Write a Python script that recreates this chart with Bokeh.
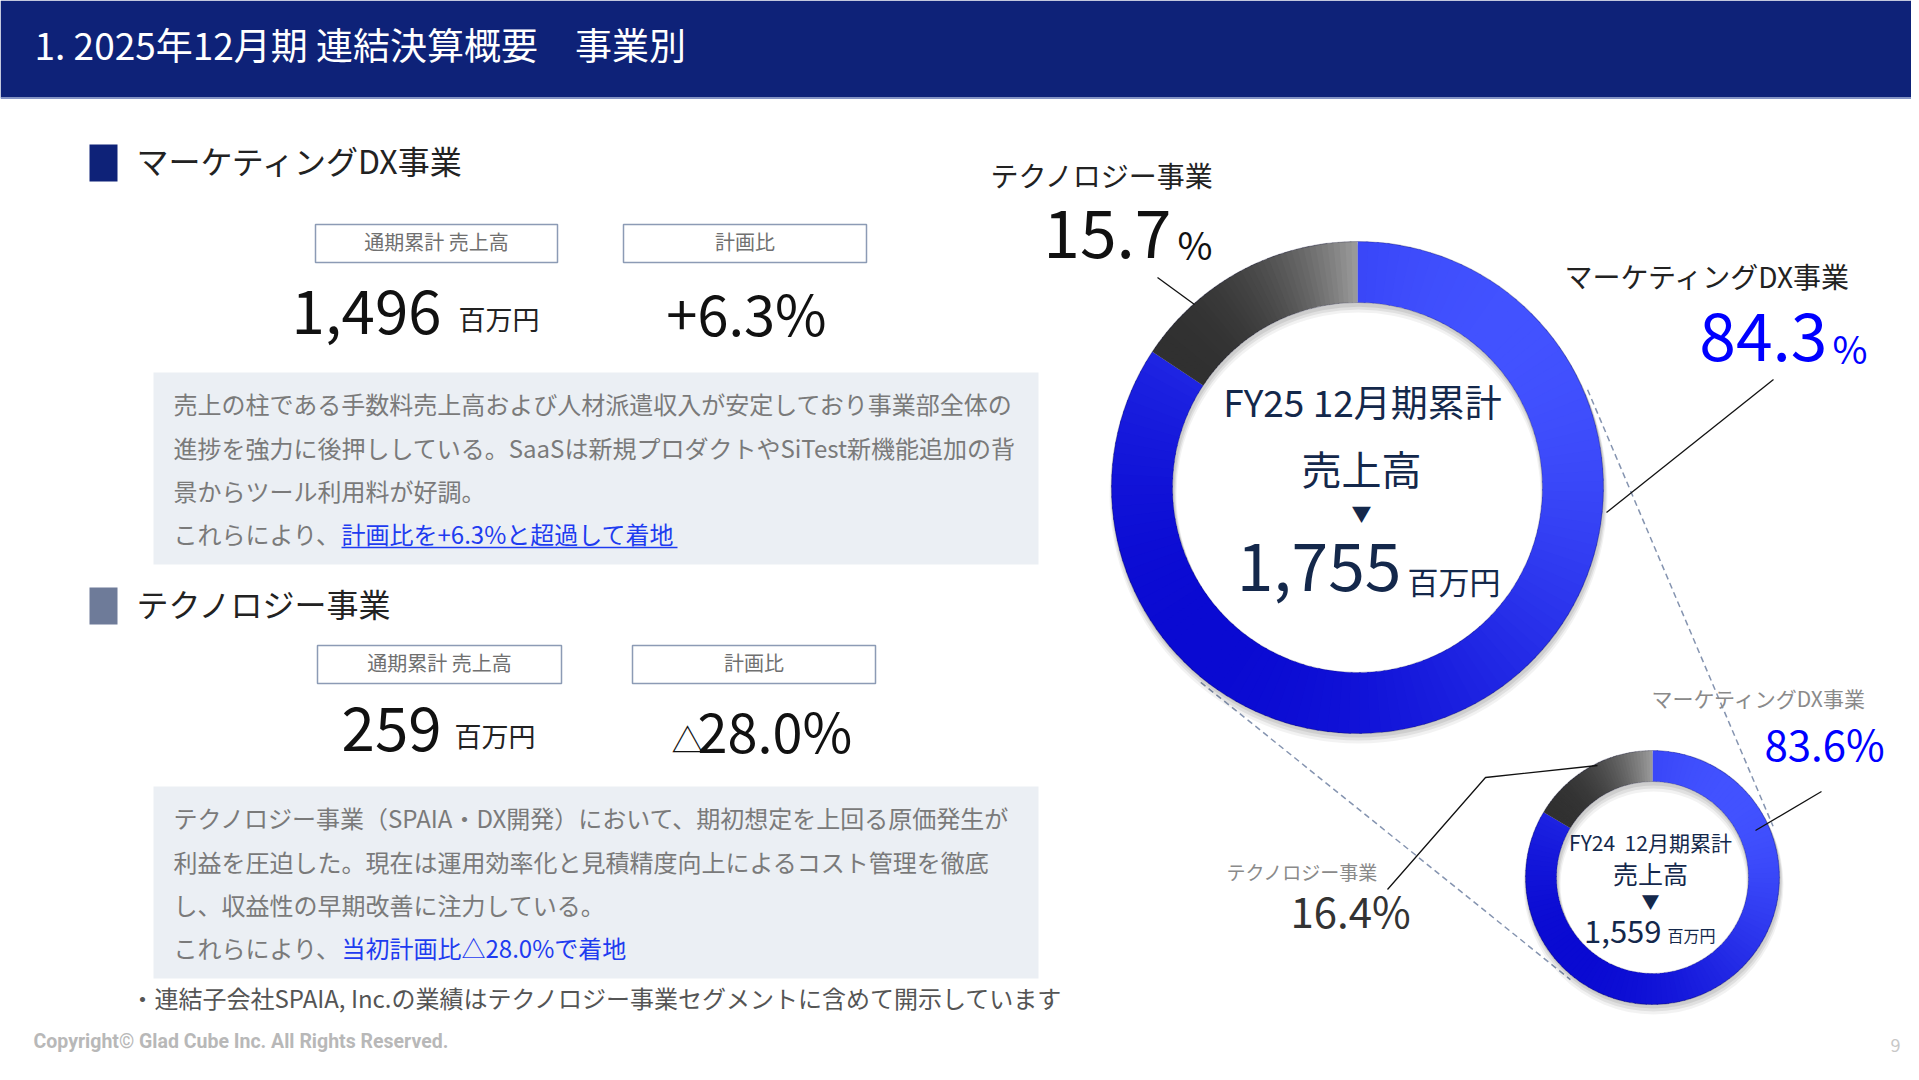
import numpy as np
from bokeh.plotting import figure
from bokeh.models import Range1d
from bokeh.core.properties import value
from bokeh.embed import file_html
from bokeh.resources import INLINE

# ---------------- data ----------------
segments = ["マーケティングDX事業", "テクノロジー事業"]
fy25_sales = [1496, 259]            # 百万円
fy25_total = 1755                   # 百万円
fy25_share = [84.3, 15.7]           # %
fy24_share = [83.6, 16.4]           # %
fy24_total = 1559                   # 百万円
plan_ratio = ["+6.3%", "△28.0%"]
box_labels = ["通期累計 売上高", "計画比"]
unit = "百万円"

mdx_lines = [
    "売上の柱である手数料売上高および人材派遣収入が安定しており事業部全体の",
    "進捗を強力に後押ししている。SaaSは新規プロダクトやSiTest新機能追加の背",
    "景からツール利用料が好調。",
]
mdx_link = "計画比を+6.3%と超過して着地"
tech_lines = [
    "テクノロジー事業（SPAIA・DX開発）において、期初想定を上回る原価発生が",
    "利益を圧迫した。現在は運用効率化と見積精度向上によるコスト管理を徹底",
    "し、収益性の早期改善に注力している。",
]
tech_link = "当初計画比△28.0%で着地"
lead_in = "これらにより、"
footnote = "・連結子会社SPAIA, Inc.の業績はテクノロジー事業セグメントに含めて開示しています"
title = "1. 2025年12月期 連結決算概要　事業別"

# ---------------- figure ----------------
JP = "Noto Sans CJK JP"
NAVY = "#0E2278"
TXT_NAVY = "#14284B"
BLUE = "#0000FF"
LINK = "#1E3CF0"

p = figure(width=1911, height=1072, x_range=Range1d(0, 1911), y_range=Range1d(8, 1080),
           output_backend="svg", toolbar_location=None, x_axis_type=None, y_axis_type=None,
           min_border=0)
p.grid.visible = False
p.outline_line_color = None
p.background_fill_color = "white"
p.border_fill_color = "white"


def Y(y):
    return 1080 - y


def txt(x, c, s, size, color="#222222", align="left", font=JP, style="normal"):
    # c = vertical centre of the glyphs (slide pixel coordinates)
    p.text(x=[x], y=[Y(c - 0.1 * size)], text=[s], text_font=value(font),
           text_font_size=f"{size}px", text_color=color, text_align=align,
           text_baseline="middle", text_font_style=style)


def box(l, r, t, b, fill, line=None, lw=1.5):
    p.quad(left=[l], right=[r], top=[Y(t)], bottom=[Y(b)], fill_color=fill,
           line_color=line, line_width=lw)


def hex2rgb(h):
    h = h.lstrip("#")
    return np.array([int(h[i:i + 2], 16) for i in (0, 2, 4)], dtype=float)


def lerp(c0, c1, t):
    a, b = hex2rgb(c0), hex2rgb(c1)
    c = a + (b - a) * t
    return "#%02x%02x%02x" % tuple(int(round(v)) for v in c)


# ---------------- header ----------------
box(0, 1919, 0, 97, NAVY)
p.segment(x0=[0], x1=[1919], y0=[Y(97.5)], y1=[Y(97.5)], line_color="#8594C4", line_width=2)
txt(34, 47, title, 37, "white")

# ---------------- left: sections ----------------
sec_top = [144, 587]
sec_colors = [NAVY, "#6E7B99"]
box_rows = [224, 645]
box_x = [(315, 557, 623, 866), (317, 561, 632, 875)]
val_c = [317, 734]
val_split = [441, 441]
unit_x = [458, 454]
unit_c = [321, 738]
panel_top = [372, 786]
line_y = [[405, 449, 492, 535], [819, 863, 906, 949]]
paras = [mdx_lines, tech_lines]
links = [mdx_link, tech_link]

for i in range(2):
    st = sec_top[i]
    box(89, 117, st, st + 37, sec_colors[i])
    txt(136, st + 19, segments[i], 32, "#222222")
    bt = box_rows[i]
    l1, r1, l2, r2 = box_x[i]
    box(l1, r1, bt, bt + 38, "white", "#8C9BB5", 1.5)
    box(l2, r2, bt, bt + 38, "white", "#8C9BB5", 1.5)
    txt((l1 + r1) / 2, bt + 19, box_labels[0], 20, "#707070", align="center")
    txt((l2 + r2) / 2, bt + 19, box_labels[1], 20, "#707070", align="center")
    txt(val_split[i], val_c[i], f"{fy25_sales[i]:,}", 60, "#111111", align="right")
    txt(unit_x[i], unit_c[i], unit, 27, "#222222")
    pt = panel_top[i]
    box(153, 1038, pt, pt + 192, "#EBEFF4")
    for k, s in enumerate(paras[i]):
        txt(173, line_y[i][k], s, 24, "#7A7A7A")
    txt(173, line_y[i][3], lead_in, 24, "#7A7A7A")
    txt(341, line_y[i][3], links[i], 24, LINK)

# plan ratios
txt(746, 317, plan_ratio[0], 56, "#111111", align="center")
r2 = plan_ratio[1]
txt(671, 741, r2[0], 32, "#111111")
txt(697, 734, r2[1:], 54, "#111111")

# underline of the first link
p.segment(x0=[341], x1=[677], y0=[Y(547)], y1=[Y(547)], line_color=LINK, line_width=1.5)

txt(130, 999, footnote, 24, "#555555")
txt(33, 1043, "Copyright© Glad Cube Inc. All Rights Reserved.", 19.5, "#B8B8B8",
    font="Roboto", style="bold")
txt(1890, 1046, "9", 18, "#C8C8C8")


# ---------------- donuts ----------------
def donut(cx, cy, r_in, r_out, shares, n=120):
    # soft shadow
    for dy, grow, a in [(7, 3, 0.05), (5, 2, 0.07), (3, 1, 0.08)]:
        p.annulus(x=[cx + 1], y=[Y(cy + dy)], inner_radius=r_in - grow, outer_radius=r_out + grow,
                  fill_color="black", fill_alpha=a, line_color=None)
    m_span = shares[0] / 100 * 360
    t_span = shares[1] / 100 * 360
    # marketing slice: clockwise from 12 o'clock
    e = np.linspace(90 - m_span, 90, n + 1)
    mids = (e[:-1] + e[1:]) / 2
    t = (1 + np.cos(np.radians(mids - 45))) / 2
    cols = [lerp("#0A0AD2", "#4252FF", tt ** 1.1) for tt in t]
    p.annular_wedge(x=cx, y=Y(cy), inner_radius=r_in, outer_radius=r_out,
                    start_angle=list(np.radians(e[:-1])),
                    end_angle=list(np.radians(np.minimum(e[1:] + 0.6, 90))),
                    fill_color=cols, line_color=None)
    # technology slice: from 12 o'clock to marketing end (anticlockwise)
    g = np.linspace(90, 90 + t_span, n // 3 + 1)
    gm = (g[:-1] + g[1:]) / 2
    tg = (90 + t_span - gm) / t_span
    gcols = [lerp("#303030", "#9C9C9C", tt ** 2.4) for tt in tg]
    p.annular_wedge(x=cx, y=Y(cy), inner_radius=r_in, outer_radius=r_out,
                    start_angle=list(np.radians(g[:-1])),
                    end_angle=list(np.radians(np.minimum(g[1:] + 0.4, 90 + t_span))),
                    fill_color=gcols, line_color=None)
    # rim shading
    p.circle(x=[cx], y=[Y(cy)], radius=r_out, fill_color=None, line_color="#000030",
             line_alpha=0.25, line_width=1.2)
    p.circle(x=[cx], y=[Y(cy)], radius=r_in, fill_color=None, line_color="#000030",
             line_alpha=0.2, line_width=1.2)


BIG = (1357, 487, 185, 246)
SMALL = (1652, 877, 96, 127)

# connecting dashed lines (outer tangents of the two rings)
c1 = np.array(BIG[:2], float)
c2 = np.array(SMALL[:2], float)
ra, rb = BIG[3] + 4, SMALL[3] + 4
d = c2 - c1
D = np.hypot(*d)
base = np.arctan2(d[1], d[0])
phi = np.arccos((ra - rb) / D)
for sgn in (-1, 1):
    ang = base + sgn * phi
    nvec = np.array([np.cos(ang), np.sin(ang)])
    pa = c1 + ra * nvec
    pb = c2 + rb * nvec
    p.segment(x0=[pa[0]], y0=[Y(pa[1])], x1=[pb[0]], y1=[Y(pb[1])], line_color="#8594B0",
              line_width=1.5, line_dash="6 4")

donut(*BIG, fy25_share)
donut(*SMALL, fy24_share)

# big donut centre text
cx = BIG[0]
txt(cx + 5, 404, "FY25 12月期累計", 37, TXT_NAVY, align="center")
txt(cx + 4, 471, "売上高", 40, TXT_NAVY, align="center")
txt(cx + 4, 515, "▼", 20, TXT_NAVY, align="center")
txt(1401, 573, f"{fy25_total:,}", 66, TXT_NAVY, align="right")
txt(1407, 583, unit, 31, TXT_NAVY)

# small donut centre text
sx = SMALL[0]
txt(sx - 2, 844, "FY24\u00a0\u00a012月期累計", 21, TXT_NAVY, align="center")
txt(sx - 2, 875, "売上高", 25, TXT_NAVY, align="center")
txt(sx - 2, 902, "▼", 18, TXT_NAVY, align="center")
txt(1661, 934, f"{fy24_total:,}", 31, TXT_NAVY, align="right")
txt(1667, 936, unit, 16, TXT_NAVY)

# big donut labels
txt(990, 177, segments[1], 28, "#222222")
txt(1171, 240, f"{fy25_share[1]:.1f}", 66, "#111111", align="right")
txt(1177, 247, "%", 38, "#111111")
txt(1564, 278, segments[0], 28, "#222222")
txt(1827, 343, f"{fy25_share[0]:.1f}", 66, BLUE, align="right")
txt(1832, 351, "%", 38, BLUE)
p.line(x=[1157, 1194], y=[Y(277), Y(304)], line_color="#111111", line_width=1.3)
p.line(x=[1773, 1606], y=[Y(379), Y(512)], line_color="#111111", line_width=1.3)

# small donut labels
txt(1651, 700, segments[0], 21, "#8A8A8A")
txt(1764, 746, f"{fy24_share[0]:.1f}%", 42, BLUE)
txt(1226, 873, segments[1], 19, "#8A8A8A")
txt(1290, 913, f"{fy24_share[1]:.1f}%", 42, "#333333")
p.line(x=[1821, 1755], y=[Y(791), Y(830)], line_color="#111111", line_width=1.3)
p.line(x=[1387, 1485, 1597], y=[Y(889), Y(777), Y(765)], line_color="#111111", line_width=1.3)

open("out.html", "w").write(file_html(p, INLINE))
